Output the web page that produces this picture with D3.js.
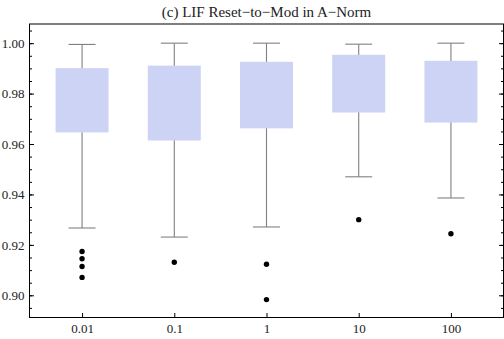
<!DOCTYPE html>
<html>
<head>
<meta charset="utf-8">
<script src="https://cdn.jsdelivr.net/npm/d3@7"></script>
<style>
  body { margin: 0; background: #fff; }
  svg { display: block; }
  text { font-family: "Liberation Serif", "Times New Roman", serif; fill: #222; }
</style>
</head>
<body>
<svg id="chart" width="504" height="339"></svg>
<script>
// valori
const categories = ["0.01", "0.1", "1", "10", "100"];
const whiskerLow = [0.9267, 0.9231, 0.9271, 0.9470, 0.9386];
const q1 = [0.9646, 0.9614, 0.9662, 0.9725, 0.9685];
const q3 = [0.9901, 0.9911, 0.9926, 0.9954, 0.9930];
const whiskerHigh = [0.9995, 1.0, 1.0, 0.9996, 1.0];
const outliers = [
  [0.9174, 0.9145, 0.9114, 0.9071],
  [0.9131],
  [0.9123, 0.8983],
  [0.9300],
  [0.9244]
];
const yTicks = [0.90, 0.92, 0.94, 0.96, 0.98, 1.00];
const title = "(c) LIF Reset\u2212to\u2212Mod in A\u2212Norm";

const frameLeft = 29.5, frameRight = 503.5, frameTop = 24, frameBottom = 317.5;
const boxWidth = 53, capWidth = 27;

const svg = d3.select("#chart");

const xScale = d3.scalePoint()
  .domain(categories)
  .range([frameLeft, frameRight])
  .padding(0.57);

const yScale = d3.scaleLinear()
  .domain([0.8912, 1.0076])
  .range([frameBottom, frameTop]);

const minorTicks = d3.range(0, 24).map(i => +(0.89 + i * 0.005).toFixed(3))
  .filter(v => v >= 0.8912 && v <= 1.0076);

// frame
svg.append("rect")
  .attr("x", frameLeft).attr("y", frameTop)
  .attr("width", frameRight - frameLeft).attr("height", frameBottom - frameTop)
  .attr("fill", "none").attr("stroke", "#000").attr("stroke-width", 1);

// boxes
const boxes = svg.append("g").selectAll("g")
  .data(categories.map((c, i) => ({c, i})))
  .enter().append("g")
  .attr("transform", d => "translate(" + xScale(d.c) + ",0)");

boxes.append("line")
  .attr("x1", 0).attr("x2", 0)
  .attr("y1", d => yScale(whiskerHigh[d.i]))
  .attr("y2", d => yScale(whiskerLow[d.i]))
  .attr("stroke", "#808080").attr("stroke-width", 1.1);

boxes.append("line")
  .attr("x1", -capWidth / 2).attr("x2", capWidth / 2)
  .attr("y1", d => yScale(whiskerHigh[d.i]))
  .attr("y2", d => yScale(whiskerHigh[d.i]))
  .attr("stroke", "#808080").attr("stroke-width", 1.1);

boxes.append("line")
  .attr("x1", -capWidth / 2).attr("x2", capWidth / 2)
  .attr("y1", d => yScale(whiskerLow[d.i]))
  .attr("y2", d => yScale(whiskerLow[d.i]))
  .attr("stroke", "#808080").attr("stroke-width", 1.1);

boxes.append("rect")
  .attr("x", -boxWidth / 2)
  .attr("width", boxWidth)
  .attr("y", d => yScale(q3[d.i]))
  .attr("height", d => yScale(q1[d.i]) - yScale(q3[d.i]))
  .attr("fill", "#ccd3f5");

boxes.selectAll("circle")
  .data(d => outliers[d.i])
  .enter().append("circle")
  .attr("cx", 0)
  .attr("cy", v => yScale(v))
  .attr("r", 2.7)
  .attr("fill", "#000");

// y axis (left), ticks inward
const yAxis = d3.axisLeft(yScale)
  .tickValues(yTicks)
  .tickSize(-4.5)
  .tickPadding(5)
  .tickFormat(d3.format(".2f"));
const gy = svg.append("g").attr("transform", "translate(" + frameLeft + ",0)").call(yAxis);
gy.select(".domain").remove();
gy.selectAll("text").attr("font-size", 13).attr("fill", "#222");

svg.append("g").attr("transform", "translate(" + frameLeft + ",0)")
  .call(d3.axisLeft(yScale).tickValues(minorTicks).tickSize(-2.5).tickFormat(""))
  .select(".domain").remove();

// right side ticks
const gr = svg.append("g").attr("transform", "translate(" + frameRight + ",0)");
gr.call(d3.axisRight(yScale).tickValues(yTicks).tickSize(-4.5).tickFormat(""));
gr.select(".domain").remove();
svg.append("g").attr("transform", "translate(" + frameRight + ",0)")
  .call(d3.axisRight(yScale).tickValues(minorTicks).tickSize(-2.5).tickFormat(""))
  .select(".domain").remove();

// x axis (bottom)
const gx = svg.append("g").attr("transform", "translate(0," + frameBottom + ")")
  .call(d3.axisBottom(xScale).tickSize(-4.5).tickPadding(6));
gx.select(".domain").remove();
gx.selectAll("text").attr("font-size", 13).attr("fill", "#222");

// title
svg.append("text")
  .attr("x", (frameLeft + frameRight) / 2)
  .attr("y", 17)
  .attr("text-anchor", "middle")
  .attr("font-size", 15)
  .text(title);
</script>
</body>
</html>
